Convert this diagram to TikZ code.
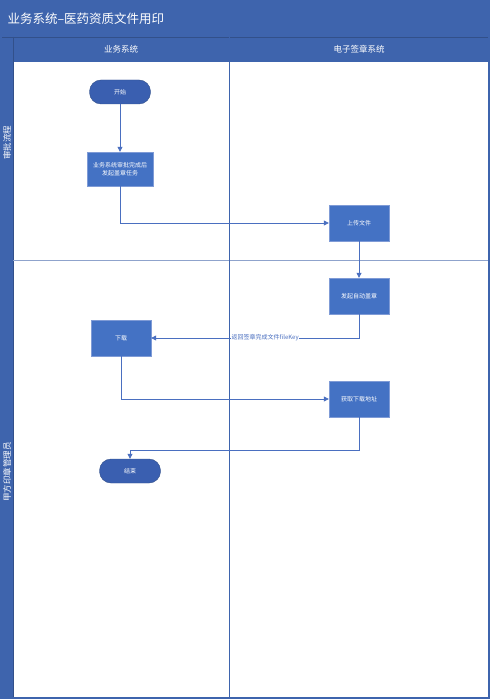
\documentclass[tikz,border=0pt]{standalone}
\usepackage{fontspec}
\setmainfont{Noto Sans CJK SC}
\usetikzlibrary{arrows.meta}
\definecolor{laneblue}{HTML}{3E64AD}
\definecolor{boxblue}{HTML}{4472C4}
\definecolor{boxedge}{HTML}{7F9BD6}
\definecolor{termblue}{HTML}{3A5FB0}
\definecolor{lineblue}{HTML}{4A6FC0}
\definecolor{sepgray}{HTML}{8FA3CC}
\begin{document}
\begin{tikzpicture}[x=1pt, y=-1pt, >={Triangle[length=5pt,width=5pt]},
        box/.style={rectangle, draw=boxedge, fill=boxblue, text=white, minimum width=60pt, minimum height=36pt, align=center, font=\fontsize{6}{8.5}\selectfont, inner sep=1pt},
        term/.style={rectangle, rounded corners=11.5pt, draw=laneblue!80!black, fill=termblue, text=white, minimum width=61pt, minimum height=24pt, font=\fontsize{6}{8}\selectfont},
        flow/.style={->, draw=lineblue, line width=0.8pt},
        head/.style={text=white, font=\fontsize{8.5}{10}\selectfont}
    ]
    \useasboundingbox (0,0) rectangle (490,700);

    % 泳道框架
    \fill[white] (0,0) rectangle (490,700);
    \fill[laneblue] (1,1) rectangle (489,62);
    \fill[laneblue] (1,37) rectangle (13,698);
    \draw[laneblue!80!black, line width=0.5pt] (1,37) -- (489,37);
    \draw[laneblue!80!black, line width=0.5pt] (13,37) -- (13,698);
    \draw[sepgray, line width=0.8pt] (13,260) -- (489,260);
    \draw[laneblue, line width=1pt] (229,37) -- (229,698);
    \draw[laneblue, line width=1.5pt] (1,1) rectangle (489,698);

    % 标题
    \node[anchor=west, text=white, font=\fontsize{12.5}{14}\selectfont] (title) at (4,19) {业务系统--医药资质文件用印};
    \node[head] (colA) at (121,49.5) {业务系统};
    \node[head] (colB) at (359,49.5) {电子签章系统};
    \node[head, rotate=90] (laneA) at (7,143) {审批流程};
    \node[head, rotate=90] (laneB) at (7,472) {甲方印章管理员};

    % 业务系统
    \node[term] (start) at (120,92) {开始};
    \node[box, minimum width=66pt, minimum height=34pt] (task) at (120,169) {业务系统审批完成后\\发起盖章任务};
    \node[box] (download) at (121,338) {下载};
    \node[term] (finish) at (130,471) {结束};

    % 电子签章系统
    \node[box] (upload) at (359,223) {上传文件};
    \node[box] (stamp) at (359,296) {发起自动盖章};
    \node[box] (geturl) at (359,399) {获取下载地址};

    % 连线
    \draw[flow] (start) -- (task);
    \draw[flow] (task.south) |- (upload.west);
    \draw[flow] (upload) -- (stamp);
    \draw[flow] (stamp.south) |- (download.east);
    \node[anchor=west, fill=white, inner sep=0.5pt, text=lineblue, font=\fontsize{6}{7}\selectfont] (retlabel) at (231,338) {返回签章完成文件fileKey};
    \draw[flow] (download.south) |- (geturl.west);
    \coordinate (bend) at (130,450);
    \draw[flow] (geturl.south) |- (bend) -- (finish.north);
\end{tikzpicture}
\end{document}
